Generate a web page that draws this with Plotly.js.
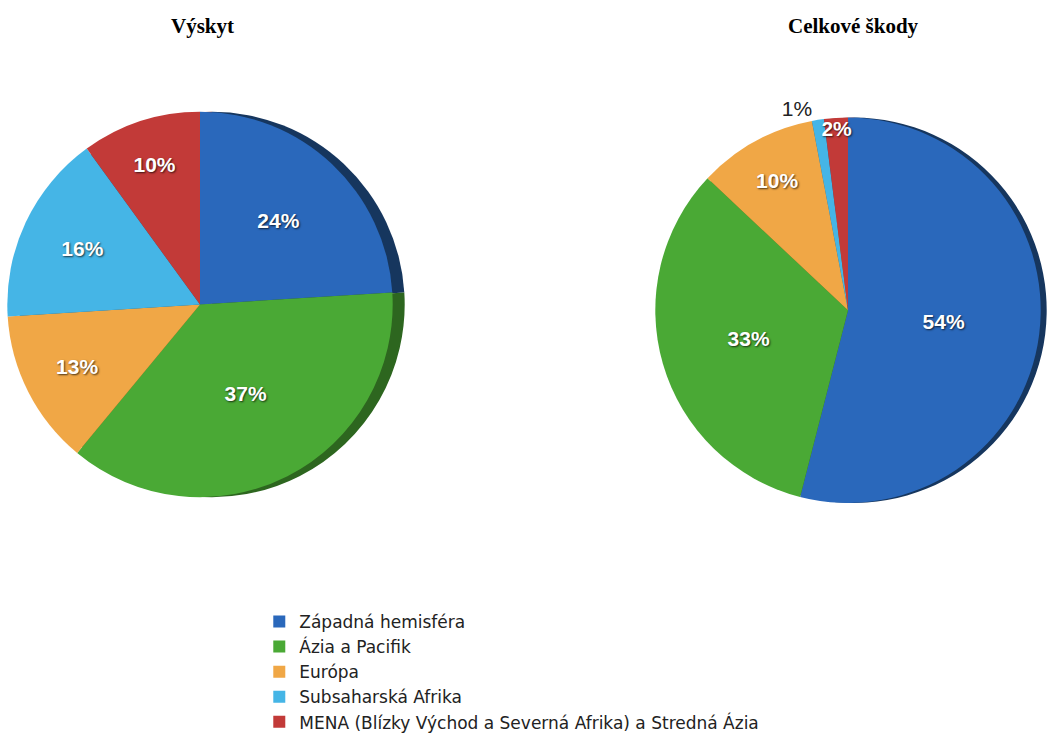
<!DOCTYPE html>
<html>
<head>
<meta charset="utf-8">
<script src="https://cdn.plot.ly/plotly-3.0.1.min.js"></script>
<style>html,body{margin:0;padding:0;background:#fff;}#chart{width:1054px;height:740px;}</style>
</head>
<body>
<div id="chart"></div>
<script>
// Data
const regions = ["Západná hemisféra", "Ázia a Pacifik", "Európa", "Subsaharská Afrika", "MENA (Blízky Východ a Severná Afrika) a Stredná Ázia"];
const occurrence = [24, 37, 13, 16, 10];      // Výskyt (%)
const totalDamage = [54, 33, 10, 1, 2];       // Celkové škody (%)
const chartTitles = ["Výskyt", "Celkové škody"];

const colors = ["#2a68bb", "#4aa935", "#f0a746", "#45b5e6", "#c23a38"];
const sideColors = ["#16365e", "#2d661f", "#8a5a1e", "#1f5f80", "#6e1f1e"];

const labelFont = {family: "Liberation Sans, Arial, sans-serif", size: 22, color: "#ffffff", weight: "bold",
                   shadow: "1px 1px 2px rgba(0,0,0,0.7)"};

function pieTrace(values, domain, front, textpos) {
  return {
    type: "pie",
    labels: regions,
    values: values,
    sort: false,
    direction: "clockwise",
    rotation: 0,
    domain: domain,
    marker: {colors: front ? colors : sideColors, line: {width: 0}},
    textinfo: front ? "percent" : "none",
    texttemplate: front ? "%{value}%" : "",
    textposition: front ? textpos : "none",
    insidetextorientation: "horizontal",
    insidetextfont: labelFont,
    outsidetextfont: {family: "Liberation Sans, Arial, sans-serif", size: 20, color: "#222222"},
    showlegend: front,
    hoverinfo: "label+value",
  };
}

const data = [
  pieTrace(occurrence, {x: [0.0114, 0.3909], y: [0.3027, 0.8432]}, false),
  pieTrace(occurrence, {x: [0.0, 0.3795], y: [0.3027, 0.8432]}, true, "inside"),
  pieTrace(totalDamage, {x: [0.6205, 1.0], y: [0.2946, 0.8351]}, false),
  pieTrace(totalDamage, {x: [0.6148, 0.9943], y: [0.2946, 0.8351]}, true,
           ["inside", "inside", "inside", "outside", "inside"]),
];

const layout = {
  width: 1054, height: 740,
  margin: {l: 0, r: 0, t: 0, b: 0},
  paper_bgcolor: "#ffffff",
  showlegend: true,
  uniformtext: {mode: "show", minsize: 21},
  legend: {
    x: 0.246, y: 0.153, xanchor: "left", yanchor: "top",
    orientation: "v",
    font: {family: "DejaVu Sans, sans-serif", size: 17, color: "#222222"},
    bgcolor: "rgba(0,0,0,0)",
    itemclick: false
  },
  annotations: [
    {text: chartTitles[0], x: 0.1917, y: 0.9635, xref: "paper", yref: "paper", showarrow: false,
     xanchor: "center", yanchor: "middle",
     font: {family: "Liberation Serif, Times New Roman, serif", size: 21, color: "#000", weight: "bold"}},
    {text: chartTitles[1], x: 0.8093, y: 0.9635, xref: "paper", yref: "paper", showarrow: false,
     xanchor: "center", yanchor: "middle",
     font: {family: "Liberation Serif, Times New Roman, serif", size: 21, color: "#000", weight: "bold"}}
  ]
};

Plotly.newPlot("chart", data, layout, {displayModeBar: false, staticPlot: true});
</script>
</body>
</html>
